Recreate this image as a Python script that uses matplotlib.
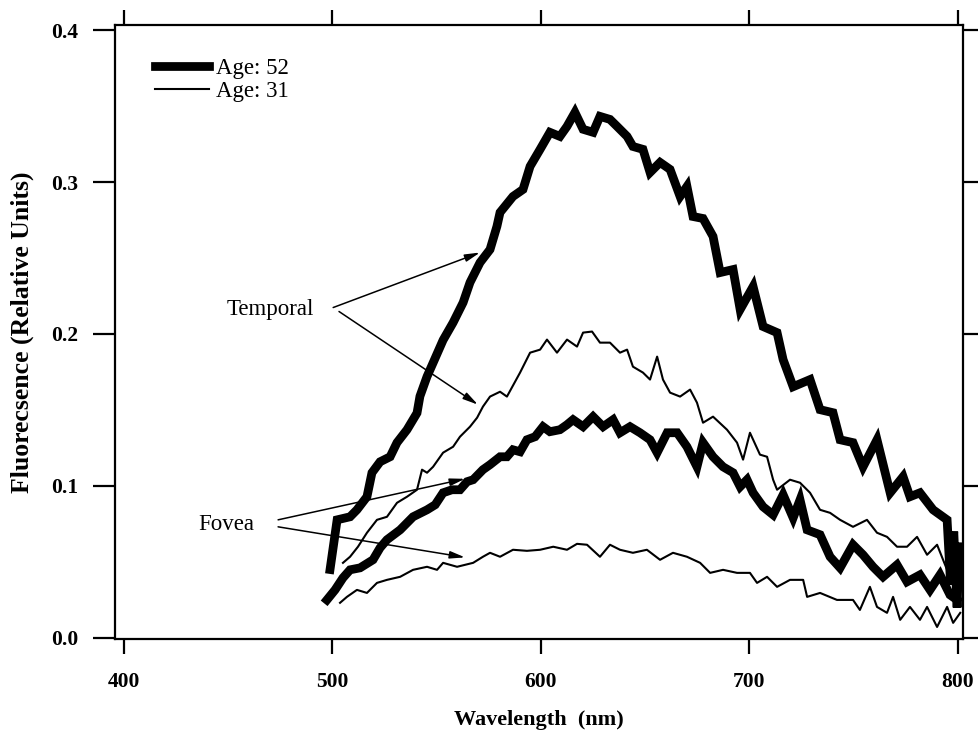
import matplotlib
matplotlib.use('Agg')
import matplotlib.pyplot as plt

# ---- data ----
wl_t52 = [499.0, 502.4, 508.6, 511.9, 516.7, 519.1, 523.0, 527.8, 531.1, 535.9, 540.7, 542.1,
          545.5, 548.4, 553.2, 558.0, 562.8, 566.1, 570.9, 575.7, 579.0, 580.5, 586.7, 591.5,
          594.9, 599.7, 604.4, 609.2, 612.6, 616.4, 620.3, 625.1, 628.4, 633.2, 636.6, 641.4,
          644.2, 649.0, 652.4, 657.2, 662.0, 666.8, 670.1, 673.0, 677.8, 682.6, 686.0, 692.2,
          695.6, 701.8, 706.6, 713.3, 716.2, 721.0, 729.1, 733.9, 740.1, 743.5, 749.7, 754.5,
          761.2, 767.5, 773.7, 777.0, 781.8, 788.1, 794.8, 796.5, 798.0, 799.6, 800.5]
val_t52 = [0.045, 0.0777, 0.0797, 0.0843, 0.0929, 0.1087, 0.1159, 0.1192, 0.1285, 0.137, 0.148, 0.159,
           0.172, 0.181, 0.196, 0.2075, 0.2207, 0.2339, 0.247, 0.2556, 0.2708, 0.28, 0.2905, 0.2951,
           0.3103, 0.3215, 0.3327, 0.33, 0.3366, 0.3458, 0.3347, 0.3327, 0.3432, 0.3412, 0.3366, 0.33,
           0.3234, 0.3215, 0.3063, 0.3129, 0.3083, 0.2905, 0.2971, 0.2773, 0.276, 0.2642, 0.2404, 0.2424,
           0.2161, 0.2312, 0.2049, 0.2009, 0.1831, 0.1653, 0.17, 0.1502, 0.1482, 0.1304, 0.1285, 0.1126,
           0.1304, 0.0955, 0.1061, 0.0929, 0.0955, 0.0843, 0.0777, 0.035, 0.07, 0.02, 0.06]

wl_t31 = [505.2, 508.6, 512.4, 516.7, 521.5, 526.3, 531.1, 535.9, 540.7, 543.1, 545.5, 548.4,
          553.2, 558.0, 561.3, 566.1, 569.5, 572.3, 575.7, 580.5, 583.8, 590.1, 594.9, 599.7,
          603.0, 607.8, 612.6, 617.4, 620.3, 624.6, 628.4, 633.2, 638.0, 641.4, 644.2, 649.0,
          652.4, 655.8, 658.6, 662.0, 666.8, 671.6, 674.9, 677.8, 682.6, 689.3, 694.1, 697.0,
          700.3, 705.1, 708.5, 711.4, 713.3, 719.5, 724.3, 729.1, 733.9, 738.7, 743.5, 749.7,
          756.4, 761.2, 766.0, 770.8, 775.6, 780.4, 785.2, 790.0, 794.8, 799.6]
val_t31 = [0.0494, 0.0534, 0.06, 0.0692, 0.0777, 0.0797, 0.0889, 0.0929, 0.0975, 0.1107, 0.1087, 0.1126,
           0.1219, 0.1258, 0.1324, 0.139, 0.1449, 0.1522, 0.1588, 0.162, 0.1588, 0.1746, 0.1877, 0.1897,
           0.1963, 0.1877, 0.1963, 0.1917, 0.2009, 0.2016, 0.1943, 0.1943, 0.1877, 0.1897, 0.1785, 0.1746,
           0.17, 0.1851, 0.17, 0.1614, 0.1588, 0.1634, 0.1548, 0.1416, 0.1456, 0.137, 0.1285, 0.1173,
           0.135, 0.1206, 0.1192, 0.1041, 0.0975, 0.1041, 0.1021, 0.0955, 0.0843, 0.0823, 0.0777, 0.0731,
           0.0777, 0.0692, 0.0665, 0.06, 0.06, 0.0665, 0.0547, 0.0613, 0.0448, 0.0514]

wl_f52 = [497.5, 501.4, 505.2, 508.6, 513.4, 519.6, 523.0, 526.3, 532.6, 538.8, 545.5, 549.4,
          553.2, 557.5, 561.3, 564.7, 567.6, 572.3, 575.7, 580.5, 583.8, 586.7, 590.1, 593.4,
          597.3, 601.1, 604.4, 609.2, 612.6, 615.5, 620.3, 625.1, 629.9, 634.7, 638.0, 642.8,
          647.6, 652.4, 655.8, 660.6, 665.4, 670.1, 674.9, 677.8, 682.6, 687.4, 692.2, 695.6,
          698.9, 701.8, 706.6, 711.4, 716.2, 721.0, 724.3, 727.7, 733.9, 738.7, 743.5, 749.7,
          754.5, 759.3, 764.1, 770.8, 775.6, 781.8, 786.6, 791.4, 796.2, 799.6]
val_f52 = [0.025, 0.0316, 0.0395, 0.0448, 0.0461, 0.0514, 0.0593, 0.0646, 0.0711, 0.0797, 0.0843, 0.0876,
           0.0955, 0.0975, 0.0975, 0.1028, 0.1041, 0.1107, 0.114, 0.1192, 0.1192, 0.1238, 0.1225, 0.1304,
           0.1324, 0.139, 0.1357, 0.137, 0.1403, 0.1436, 0.139, 0.1456, 0.139, 0.1436, 0.135, 0.139,
           0.135, 0.1304, 0.1219, 0.135, 0.135, 0.1258, 0.1126, 0.1285, 0.1192, 0.1126, 0.1087, 0.0995,
           0.1041, 0.0955, 0.0863, 0.081, 0.0942, 0.079, 0.0909, 0.0711, 0.0679, 0.0534, 0.0461, 0.0613,
           0.0547, 0.0468, 0.0402, 0.0481, 0.0369, 0.0415, 0.0316, 0.0415, 0.0283, 0.025]

wl_f31 = [503.8, 507.1, 511.9, 516.7, 521.5, 526.3, 532.6, 538.8, 545.5, 550.3, 553.2, 559.9,
          567.6, 572.3, 575.7, 580.5, 586.7, 593.4, 599.7, 606.0, 612.6, 617.4, 622.2, 628.4,
          633.2, 638.0, 644.2, 650.9, 657.2, 663.4, 670.1, 676.4, 681.2, 687.4, 694.1, 700.3,
          703.7, 708.5, 713.3, 719.5, 725.8, 727.7, 733.9, 742.0, 749.7, 753.0, 757.8, 761.2,
          766.0, 768.9, 772.3, 777.0, 781.8, 785.2, 790.0, 794.8, 797.7, 801.1]
val_f31 = [0.0231, 0.027, 0.0316, 0.0296, 0.0362, 0.0382, 0.0402, 0.0448, 0.0468, 0.0448, 0.0494, 0.0468,
           0.0494, 0.0534, 0.056, 0.0534, 0.058, 0.0573, 0.058, 0.06, 0.058, 0.0619, 0.0613, 0.0534,
           0.0613, 0.058, 0.056, 0.058, 0.0514, 0.056, 0.0534, 0.0494, 0.0428, 0.0448, 0.0428, 0.0428,
           0.0362, 0.0402, 0.0336, 0.0382, 0.0382, 0.027, 0.0296, 0.025, 0.025, 0.0184, 0.0336, 0.0204,
           0.0165, 0.027, 0.0119, 0.0204, 0.0119, 0.0204, 0.0072, 0.0204, 0.0099, 0.0165]

x_ticks = [400, 500, 600, 700, 800]
y_ticks = [0.0, 0.1, 0.2, 0.3, 0.4]
y_tick_labels = ['0.0', '0.1', '0.2', '0.3', '0.4']

plt.rcParams['font.family'] = ['Liberation Serif', 'DejaVu Serif']

fig = plt.figure(figsize=(9.8, 7.3), dpi=100)
ax = fig.add_axes([0.1173, 0.1247, 0.8653, 0.841])

thick = 6.3
thin = 1.5
ax.plot(wl_t52, val_t52, color='black', lw=thick, solid_joinstyle='miter', label='Age: 52')
ax.plot(wl_t31, val_t31, color='black', lw=thin, label='Age: 31')
ax.plot(wl_f52, val_f52, color='black', lw=thick, solid_joinstyle='miter')
ax.plot(wl_f31, val_f31, color='black', lw=thin)

ax.set_xlim(395.9, 802.4)
ax.set_ylim(-0.0007, 0.4033)
ax.set_xticks(x_ticks)
ax.set_xticklabels([str(v) for v in x_ticks])
ax.set_yticks(y_ticks)
ax.set_yticklabels(y_tick_labels)

for s in ax.spines.values():
    s.set_linewidth(1.6)

ax.tick_params(axis='both', direction='out', top=True, right=True,
               labeltop=False, labelright=False, width=1.6, length=10.5,
               labelsize=15.5)
ax.tick_params(axis='x', pad=13)
ax.tick_params(axis='y', pad=16)
for t in ax.yaxis.get_major_ticks():
    t.tick1line.set_markersize(16)
for lab in ax.get_xticklabels() + ax.get_yticklabels():
    lab.set_fontweight('bold')

ax.set_xlabel('Wavelength  (nm)', fontsize=16, fontweight='bold', labelpad=13)
ax.set_ylabel('Fluorecsence (Relative Units)', fontsize=18.5, fontweight='bold', labelpad=12)

ax.legend(loc='upper left', bbox_to_anchor=(0.037, 0.962), frameon=False,
          fontsize=16.5, handlelength=2.35, handletextpad=0.3, labelspacing=0.12,
          borderaxespad=0.0)

arrow = dict(arrowstyle='-|>,head_length=0.9,head_width=0.22', color='black', lw=1.1,
             shrinkA=0, shrinkB=0)
ax.text(470.2, 0.216, 'Temporal', fontsize=16.5, ha='center', va='center')
ax.annotate('', xy=(570.9, 0.2536), xytext=(500.5, 0.2174), arrowprops=arrow)
ax.annotate('', xy=(569.9, 0.1535), xytext=(503.3, 0.2148), arrowprops=arrow)
ax.text(449.2, 0.0744, 'Fovea', fontsize=16.5, ha='center', va='center')
ax.annotate('', xy=(563.7, 0.1047), xytext=(474.1, 0.0777), arrowprops=arrow)
ax.annotate('', xy=(563.7, 0.0530), xytext=(474.1, 0.0731), arrowprops=arrow)

fig.savefig('out.png', dpi=100)
